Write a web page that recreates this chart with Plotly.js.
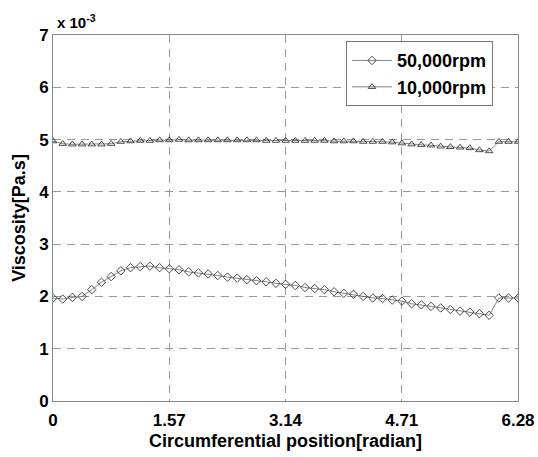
<!DOCTYPE html>
<html>
<head>
<meta charset="utf-8">
<script src="https://cdn.plot.ly/plotly-3.0.1.min.js"></script>
<style>html,body{margin:0;padding:0;background:#fff;}#chart{width:538px;height:457px;}</style>
</head>
<body>
<div id="chart"></div>
<script>
// Circumferential positions: 49 points from 0 to 2*pi (step 2*pi/48)
const nPoints = 49;
const xPositions = Array.from({length: nPoints}, (_, i) => i * 6.2832 / 48);

// Viscosity in units of 1e-3 Pa.s
const visc50k = [1.97,1.95,1.98,2.00,2.13,2.27,2.38,2.49,2.55,2.57,
                 2.58,2.55,2.53,2.51,2.47,2.45,2.43,2.40,2.37,2.35,
                 2.32,2.30,2.28,2.25,2.23,2.21,2.17,2.15,2.13,2.09,
                 2.06,2.04,2.00,1.97,1.96,1.93,1.91,1.86,1.84,1.81,
                 1.78,1.75,1.72,1.70,1.67,1.64,1.97,1.97,1.97];
const visc10k = [4.97,4.92,4.91,4.91,4.91,4.91,4.92,4.96,4.97,4.98,
                 4.98,4.99,4.99,5.00,4.99,4.99,4.99,4.99,4.99,4.99,
                 4.99,4.99,4.98,4.98,4.98,4.98,4.98,4.98,4.98,4.97,
                 4.97,4.97,4.96,4.96,4.96,4.95,4.93,4.91,4.90,4.89,
                 4.87,4.86,4.85,4.84,4.80,4.78,4.96,4.96,4.96];

const xTickVals = [0, 1.57, 3.14, 4.71, 6.28];
const xTickText = ['0', '1.57', '3.14', '4.71', '6.28'];
const yTickVals = [0,1,2,3,4,5,6,7];
const seriesNames = ['50,000rpm', '10,000rpm'];

const fontFam = 'Liberation Sans, Arial, sans-serif';

const traces = [
  {x: xPositions, y: visc50k, name: seriesNames[0], type: 'scatter', mode: 'lines+markers',
   line: {color: '#666', width: 0.8},
   marker: {symbol: 'diamond-open', size: 6.5, color: '#222', line: {width: 0.8}}},
  {x: xPositions, y: visc10k, name: seriesNames[1], type: 'scatter', mode: 'lines+markers',
   line: {color: '#666', width: 0.8},
   marker: {symbol: 'triangle-up-open', size: 6.5, color: '#222', line: {width: 0.8}}}
];

const axisCommon = {
  showline: true, mirror: true, linecolor: '#888', linewidth: 1,
  showgrid: true, gridcolor: '#999', griddash: '8px,6px', gridwidth: 1,
  zeroline: false, ticks: '',
  tickfont: {family: fontFam, size: 17, color: '#000', weight: 'bold'}
};

const layout = {
  width: 538, height: 457,
  margin: {l: 53, r: 20, t: 35, b: 56},
  paper_bgcolor: '#fff', plot_bgcolor: '#fff',
  showlegend: true,
  legend: {x: 0.63, y: 0.983, xanchor: 'left', yanchor: 'top',
           bgcolor: '#fff', bordercolor: '#777', borderwidth: 1,
           itemwidth: 40,
           font: {family: fontFam, size: 18, color: '#000', weight: 'bold'},
           tracegroupgap: 0},
  xaxis: Object.assign({}, axisCommon, {
    range: [0, 6.28], tickvals: xTickVals, ticktext: xTickText,
    ticklabelstandoff: 4,
    title: {text: 'Circumferential position[radian]', standoff: 4,
            font: {family: fontFam, size: 18, color: '#000', weight: 'bold'}}
  }),
  yaxis: Object.assign({}, axisCommon, {
    range: [0, 7], tickvals: yTickVals,
    title: {text: 'Viscosity[Pa.s]', standoff: 8,
            font: {family: fontFam, size: 18, color: '#000', weight: 'bold'}}
  }),
  annotations: [{
    xref: 'paper', yref: 'paper', x: 0.005, y: 1.005, xanchor: 'left', yanchor: 'bottom',
    text: 'x 10<sup>-3</sup>', showarrow: false,
    font: {family: fontFam, size: 15, color: '#000', weight: 'bold'}
  }]
};

Plotly.newPlot('chart', traces, layout, {displayModeBar: false, staticPlot: true});
</script>
</body>
</html>
